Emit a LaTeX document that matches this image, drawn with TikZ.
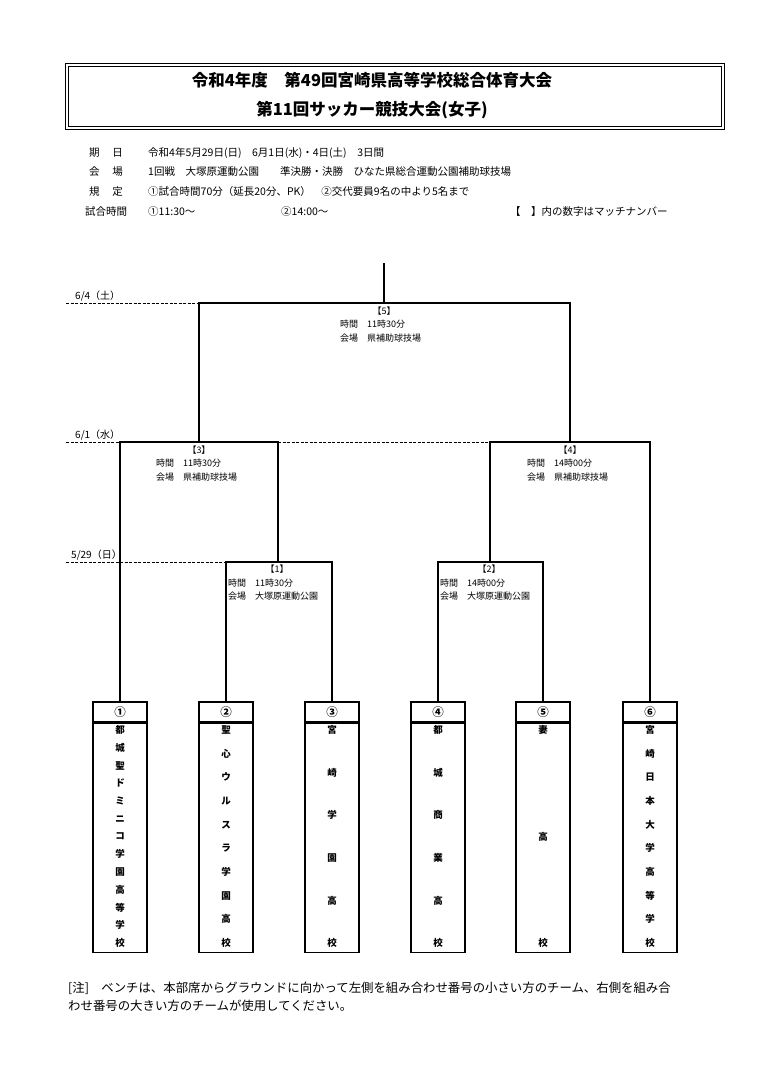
\documentclass[tikz,border=0pt]{standalone}
\usepackage{fontspec}
\setmainfont{Noto Sans CJK JP}
\usepackage{tikz}
\usetikzlibrary{positioning, calc}

\begin{document}
\begin{tikzpicture}[x=1pt, y=-1pt,
    line/.style={line width=1.2pt},
    dateline/.style={line width=0.7pt, dash pattern=on 3pt off 1.5pt},
    title/.style={font=\bfseries\fontsize{16.5}{16.5}\selectfont, inner sep=0pt},
    infolbl/.style={font=\fontsize{10.5}{11}\selectfont, inner sep=0pt},
    info/.style={anchor=west, font=\fontsize{10.5}{11}\selectfont, inner sep=0pt},
    datelbl/.style={anchor=south west, font=\fontsize{10}{10}\selectfont, inner sep=0pt},
    matchno/.style={font=\fontsize{9}{9}\selectfont, inner sep=0pt},
    matchinfo/.style={anchor=west, font=\fontsize{9}{9}\selectfont, inner sep=0pt},
    numbox/.style={draw, line width=1.1pt, minimum width=54pt, minimum height=20pt, inner sep=0pt, font=\bfseries\fontsize{11.5}{11.5}\selectfont},
    namebox/.style={draw, line width=1.1pt, minimum width=54pt, minimum height=229pt, inner sep=0pt, anchor=north},
    namechar/.style={font=\bfseries\fontsize{9.5}{9.5}\selectfont, inner sep=0pt},
    note/.style={anchor=west, font=\fontsize{12.4}{12.4}\selectfont, inner sep=0pt}
]
    \useasboundingbox (0,0) rectangle (784,1068);

    % heading
    \draw[line width=1pt] (65,63) rectangle (724,129);
    \draw[line width=0.6pt] (68,66) rectangle (721,126);
    \node[title] (ttl1) at (372,80) {令和4年度　第49回宮崎県高等学校総合体育大会};
    \node[title] (ttl2) at (372,110) {第11回サッカー競技大会(女子)};

    % outline of the tournament
    \node[infolbl] (l1) at (106,153) {期\hspace{1.2em}日};
    \node[info] (v1) at (148,153) {令和4年5月29日(日)　6月1日(水)・4日(土)　3日間};
    \node[infolbl] (l2) at (106,172) {会\hspace{1.2em}場};
    \node[info] (v2) at (148,172) {1回戦　大塚原運動公園　　準決勝・決勝　ひなた県総合運動公園補助球技場};
    \node[infolbl] (l3) at (106,192) {規\hspace{1.2em}定};
    \node[info] (v3) at (148,192) {①試合時間70分（延長20分、PK）　②交代要員9名の中より5名まで};
    \node[infolbl] (l4) at (106,212) {試合時間};
    \node[info] (v4a) at (148,212) {①11:30～};
    \node[info] (v4b) at (281,212) {②14:00～};
    \node[info] (v4c) at (510,212) {【　】内の数字はマッチナンバー};

    % teams
    \node[numbox] (t1) at (120,712) {①};
    \node[numbox] (t2) at (226,712) {②};
    \node[numbox] (t3) at (332,712) {③};
    \node[numbox] (t4) at (438,712) {④};
    \node[numbox] (t5) at (543,712) {⑤};
    \node[numbox] (t6) at (650,712) {⑥};
    \node[namebox] (n1) at (t1.south) {};
    \node[namebox] (n2) at (t2.south) {};
    \node[namebox] (n3) at (t3.south) {};
    \node[namebox] (n4) at (t4.south) {};
    \node[namebox] (n5) at (t5.south) {};
    \node[namebox] (n6) at (t6.south) {};
    \foreach \c [count=\k from 0] in {都,城,聖,ド,ミ,ニ,コ,学,園,高,等,学,校}
        \node[namechar] (c1-\k) at (120, {730+213*\k/12}) {\c};
    \foreach \c [count=\k from 0] in {聖,心,ウ,ル,ス,ラ,学,園,高,校}
        \node[namechar] (c2-\k) at (226, {730+213*\k/9}) {\c};
    \foreach \c [count=\k from 0] in {宮,崎,学,園,高,校}
        \node[namechar] (c3-\k) at (332, {730+213*\k/5}) {\c};
    \foreach \c [count=\k from 0] in {都,城,商,業,高,校}
        \node[namechar] (c4-\k) at (438, {730+213*\k/5}) {\c};
    \foreach \c [count=\k from 0] in {妻,高,校}
        \node[namechar] (c5-\k) at (543, {730+213*\k/2}) {\c};
    \foreach \c [count=\k from 0] in {宮,崎,日,本,大,学,高,等,学,校}
        \node[namechar] (c6-\k) at (650, {730+213*\k/9}) {\c};

    % bracket
    \coordinate (top) at (384,263);
    \coordinate (m5) at (384,303);
    \coordinate (m3) at (199,442);
    \coordinate (m4) at (570,442);
    \coordinate (m1) at (278,562);
    \coordinate (m2) at (490,562);
    \draw[line] (t2.north) |- (m1) -| (t3.north);
    \draw[line] (t4.north) |- (m2) -| (t5.north);
    \draw[line] (t1.north) |- (m3) -| (m1);
    \draw[line] (m2) |- (m4) -| (t6.north);
    \draw[line] (m3) |- (m5) -| (m4);
    \draw[line] (m5) -- (top);

    % match days
    \coordinate (d5) at (66,303);
    \coordinate (d34) at (66,442);
    \coordinate (d12) at (66,562);
    \draw[dateline] (d5) -- (m3 |- m5);
    \draw[dateline] (d34) -- (t1 |- m3);
    \draw[dateline] (m1 |- m3) -- (m2 |- m4);
    \draw[dateline] (d12) -- (t2 |- m1);
    \node[datelbl] (dt5) at (75,301) {6/4（土）};
    \node[datelbl] (dt34) at (75,440) {6/1（水）};
    \node[datelbl] (dt12) at (71,560) {5/29（日）};

    % match details
    \node[matchno] (no5) at (384,311) {【5】};
    \node[matchinfo] (tm5) at (340,324) {時間　11時30分};
    \node[matchinfo] (pl5) at (340,338) {会場　県補助球技場};
    \node[matchno] (no3) at (199,450) {【3】};
    \node[matchinfo] (tm3) at (156,463) {時間　11時30分};
    \node[matchinfo] (pl3) at (156,477) {会場　県補助球技場};
    \node[matchno] (no4) at (570,450) {【4】};
    \node[matchinfo] (tm4) at (527,463) {時間　14時00分};
    \node[matchinfo] (pl4) at (527,477) {会場　県補助球技場};
    \node[matchno] (no1) at (277,569) {【1】};
    \node[matchinfo] (tm1) at (228,583) {時間　11時30分};
    \node[matchinfo] (pl1) at (228,596) {会場　大塚原運動公園};
    \node[matchno] (no2) at (489,569) {【2】};
    \node[matchinfo] (tm2) at (440,583) {時間　14時00分};
    \node[matchinfo] (pl2) at (440,596) {会場　大塚原運動公園};

    % note
    \node[note] (nt1) at (68,988) {[注]　ベンチは、本部席からグラウンドに向かって左側を組み合わせ番号の小さい方のチーム、右側を組み合};
    \node[note] (nt2) at (68,1006) {わせ番号の大きい方のチームが使用してください。};
\end{tikzpicture}
\end{document}
